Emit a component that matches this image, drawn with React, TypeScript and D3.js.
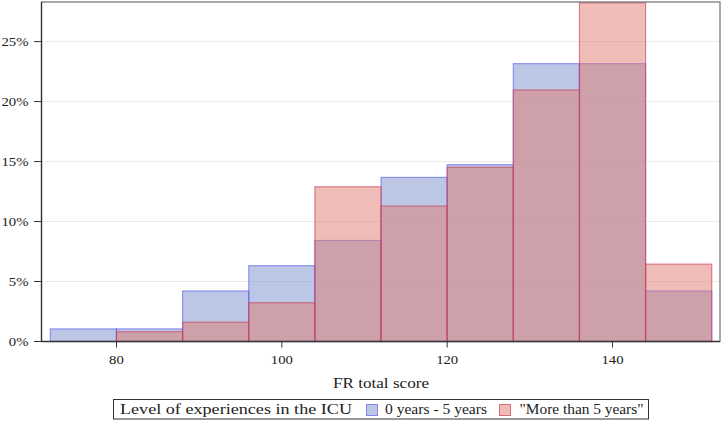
import React from 'react';
import * as d3 from 'd3';

// bin starts (width 8) and percent of each group
const binStarts = [72, 80, 88, 96, 104, 112, 120, 128, 136, 144];
const binWidth = 8;
const bluePct = [1.05, 1.05, 4.21, 6.32, 8.42, 13.68, 14.74, 23.16, 23.16, 4.21];
const redPct = [0, 0.81, 1.61, 3.23, 12.9, 11.29, 14.52, 20.97, 28.23, 6.45];
const xTicks = [80, 100, 120, 140];
const yTicks = [0, 5, 10, 15, 20, 25];
const xTitle = 'FR total score';
const legendTitle = 'Level of experiences in the ICU';
const seriesNames = ['0 years - 5 years', '"More than 5 years"'];

const W = 724, H = 422;
const plot = { left: 41.5, right: 720, top: 2, bottom: 341.5 };
const font = '"Liberation Serif", "DejaVu Serif", serif';
const textColor = '#222';

const blueFill = '#7a8fcc';
const blueLine = '#5a5af0';
const redFill = '#e07a70';
const redLine = '#c83a5a';

export default function App() {
  const x = d3.scaleLinear().domain([70.93, 153]).range([plot.left, plot.right]);
  const y = d3.scaleLinear().domain([0, 28.3]).range([plot.bottom, plot.top]);

  const bars = (vals: number[], fill: string, line: string, key: string) =>
    binStarts.map((b, i) => {
      if (vals[i] <= 0) return null;
      const x0 = x(b), x1 = x(b + binWidth);
      return (
        <rect key={key + i} x={x0} y={y(vals[i])} width={x1 - x0} height={y(0) - y(vals[i])}
          fill={fill} fillOpacity={0.5} stroke={line} strokeOpacity={0.6} strokeWidth={1.2} />
      );
    });

  return (
    <svg width={W} height={H} style={{ position: 'absolute', left: 0, top: 0, background: '#fff' }}
      fontFamily={font}>
      {/* grid */}
      {yTicks.filter(t => t > 0).map(t => (
        <line key={'g' + t} x1={plot.left} x2={plot.right} y1={y(t)} y2={y(t)} stroke="#ececec" strokeWidth={1} />
      ))}

      {bars(bluePct, blueFill, blueLine, 'b')}
      {bars(redPct, redFill, redLine, 'r')}

      {/* frame */}
      <rect x={plot.left} y={plot.top} width={plot.right - plot.left} height={plot.bottom - plot.top}
        fill="none" stroke="#555" strokeWidth={1} />
      <line x1={plot.left} x2={plot.left} y1={plot.top} y2={plot.bottom} stroke="#333" strokeWidth={1.4} />
      <line x1={plot.left} x2={plot.right} y1={plot.bottom} y2={plot.bottom} stroke="#333" strokeWidth={1.4} />

      {/* y axis */}
      {yTicks.map(t => (
        <g key={'y' + t}>
          <line x1={plot.left - 7.5} x2={plot.left} y1={y(t)} y2={y(t)} stroke="#333" strokeWidth={1} />
          <text transform={`translate(${plot.left - 13},${y(t) + 4.8}) scale(1.18,1)`} textAnchor="end"
            fontSize={12.5} fill={textColor}>{t}%</text>
        </g>
      ))}

      {/* x axis */}
      {xTicks.map(t => (
        <g key={'x' + t}>
          <line x1={x(t)} x2={x(t)} y1={plot.bottom} y2={plot.bottom + 6} stroke="#333" strokeWidth={1} />
          <text transform={`translate(${x(t)},${363.5}) scale(1.18,1)`} textAnchor="middle"
            fontSize={12.5} fill={textColor}>{t}</text>
        </g>
      ))}
      <text x={333} y={387.5} fontSize={14.5} fill={textColor} textLength={96}
        lengthAdjust="spacingAndGlyphs">{xTitle}</text>

      {/* legend */}
      <rect x={113.5} y={399.5} width={535} height={19.5} fill="#fff" stroke="#333" strokeWidth={1} />
      <text x={120} y={413.5} fontSize={15} fill={textColor} textLength={232}
        lengthAdjust="spacingAndGlyphs">{legendTitle}</text>
      <rect x={366.5} y={404.5} width={11} height={11} fill={blueFill} fillOpacity={0.5}
        stroke={blueLine} strokeOpacity={0.7} />
      <text x={385} y={413.5} fontSize={15} fill={textColor} textLength={102}
        lengthAdjust="spacingAndGlyphs">{seriesNames[0]}</text>
      <rect x={499.5} y={404.5} width={11} height={11} fill={redFill} fillOpacity={0.5}
        stroke={redLine} strokeOpacity={0.7} />
      <text x={519.5} y={413.5} fontSize={15} fill={textColor} textLength={124}
        lengthAdjust="spacingAndGlyphs">{seriesNames[1]}</text>
    </svg>
  );
}
